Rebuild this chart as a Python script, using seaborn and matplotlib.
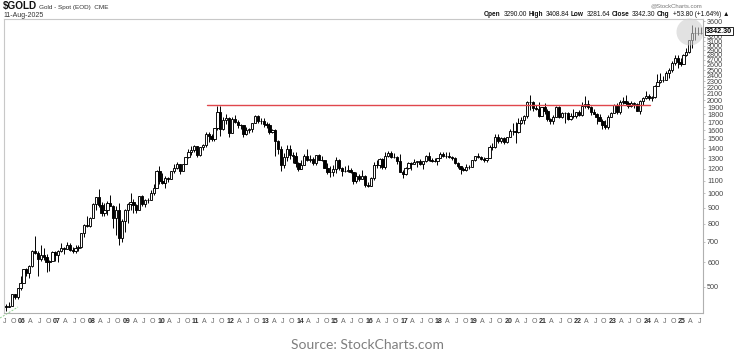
import numpy as np
import pandas as pd
import matplotlib
matplotlib.use("Agg")
import matplotlib.pyplot as plt
import seaborn as sns
from matplotlib.patches import Ellipse
from matplotlib.transforms import IdentityTransform, blended_transform_factory
from matplotlib.lines import Line2D

# ---------------- data (monthly candles, $GOLD spot) ----------------
start_month = "2005-07"
end_month = "2025-08"
first_open = 435.0

closes = [
    429, 433, 473, 465, 495, 513,                                              # 2005 (Jul-Dec)
    569, 556, 582, 654, 643, 614, 632, 624, 599, 604, 646, 632,                # 2006
    650, 665, 662, 680, 659, 650, 666, 673, 743, 790, 783, 834,                # 2007
    923, 972, 916, 863, 886, 930, 913, 833, 884, 718, 814, 884,                # 2008
    928, 942, 916, 884, 980, 927, 955, 954, 1001, 1040, 1179, 1097,            # 2009
    1081, 1118, 1113, 1180, 1213, 1244, 1181, 1248, 1307, 1359, 1386, 1421,    # 2010
    1332, 1410, 1439, 1556, 1536, 1500, 1628, 1826, 1620, 1722, 1746, 1565,    # 2011
    1740, 1697, 1669, 1664, 1559, 1604, 1614, 1693, 1773, 1719, 1713, 1675,    # 2012
    1664, 1578, 1597, 1476, 1393, 1234, 1313, 1396, 1327, 1323, 1250, 1202,    # 2013
    1240, 1326, 1284, 1296, 1250, 1327, 1282, 1287, 1210, 1171, 1175, 1199,    # 2014
    1279, 1212, 1183, 1183, 1190, 1172, 1095, 1135, 1115, 1142, 1065, 1061,    # 2015
    1118, 1238, 1233, 1291, 1215, 1321, 1351, 1309, 1316, 1277, 1173, 1152,    # 2016
    1211, 1250, 1249, 1268, 1269, 1242, 1270, 1322, 1280, 1271, 1275, 1303,    # 2017
    1345, 1318, 1325, 1316, 1299, 1253, 1224, 1201, 1192, 1215, 1222, 1282,    # 2018
    1321, 1313, 1292, 1283, 1305, 1409, 1414, 1520, 1472, 1513, 1464, 1517,    # 2019
    1587, 1585, 1577, 1687, 1730, 1781, 1975, 1968, 1886, 1879, 1776, 1898,    # 2020
    1848, 1734, 1708, 1769, 1906, 1770, 1814, 1814, 1743, 1783, 1774, 1829,    # 2021
    1797, 1909, 1937, 1897, 1838, 1807, 1766, 1711, 1661, 1633, 1768, 1824,    # 2022
    1928, 1827, 1969, 1990, 1963, 1919, 1965, 1940, 1849, 1983, 2036, 2063,    # 2023
    2039, 2044, 2230, 2286, 2327, 2326, 2448, 2503, 2634, 2744, 2657, 2625,    # 2024
    2798, 2858, 3124, 3289, 3289, 3303, 3288.5, 3342.30,                       # 2025 (Jan-Aug)
]
highs = [
    439, 447, 474, 475, 497, 540,
    571, 574, 586, 655, 730, 653, 680, 665, 640, 610, 650, 650,
    656, 690, 671, 695, 692, 672, 684, 684, 745, 795, 848, 838,
    931, 976, 1032, 936, 935, 943, 988, 917, 909, 930, 829, 889,
    933, 1006, 960, 924, 981, 989, 960, 966, 1024, 1070, 1195, 1227,
    1162, 1139, 1134, 1181, 1249, 1266, 1245, 1249, 1310, 1388, 1424, 1432,
    1423, 1411, 1448, 1575, 1577, 1560, 1632, 1912, 1921, 1760, 1804, 1764,
    1764, 1791, 1720, 1678, 1668, 1640, 1625, 1693, 1789, 1796, 1755, 1749,
    1697, 1684, 1616, 1614, 1488, 1424, 1346, 1434, 1434, 1362, 1361, 1267,
    1280, 1345, 1392, 1331, 1315, 1332, 1345, 1322, 1287, 1255, 1223, 1239,
    1307, 1290, 1220, 1224, 1232, 1205, 1175, 1170, 1157, 1191, 1146, 1088,
    1127, 1263, 1282, 1303, 1304, 1362, 1375, 1367, 1352, 1317, 1338, 1189,
    1220, 1264, 1262, 1295, 1272, 1296, 1275, 1331, 1357, 1306, 1299, 1306,
    1366, 1362, 1365, 1365, 1326, 1309, 1266, 1228, 1214, 1243, 1237, 1284,
    1326, 1346, 1324, 1310, 1306, 1439, 1453, 1555, 1557, 1517, 1517, 1525,
    1611, 1689, 1704, 1747, 1765, 1786, 1984, 2075, 1992, 1933, 1966, 1906,
    1959, 1875, 1756, 1798, 1913, 1916, 1833, 1832, 1836, 1814, 1877, 1831,
    1853, 1976, 2070, 1998, 1910, 1880, 1814, 1807, 1735, 1730, 1786, 1833,
    1949, 1959, 2009, 2049, 2079, 1984, 1987, 1966, 1953, 2009, 2052, 2135,
    2088, 2065, 2236, 2431, 2450, 2387, 2483, 2531, 2685, 2790, 2801, 2726,
    2817, 2956, 3128, 3500, 3435, 3452, 3439, 3408.84,
]
lows = [
    418, 430, 433, 457, 456, 490,
    513, 542, 535, 581, 640, 543, 606, 612, 560, 561, 616, 606,
    603, 648, 636, 662, 652, 641, 645, 652, 669, 723, 777, 781,
    832, 884, 905, 848, 849, 855, 912, 775, 736, 681, 700, 754,
    802, 887, 866, 865, 884, 913, 904, 931, 950, 990, 1042, 1075,
    1075, 1045, 1087, 1113, 1165, 1200, 1156, 1179, 1242, 1305, 1330, 1360,
    1309, 1326, 1381, 1417, 1462, 1478, 1480, 1600, 1532, 1598, 1676, 1523,
    1564, 1688, 1627, 1614, 1527, 1549, 1565, 1583, 1689, 1692, 1672, 1635,
    1627, 1555, 1562, 1321, 1339, 1180, 1208, 1271, 1292, 1251, 1222, 1182,
    1200, 1238, 1277, 1268, 1240, 1240, 1280, 1273, 1205, 1160, 1131, 1142,
    1167, 1191, 1142, 1175, 1170, 1162, 1077, 1080, 1098, 1112, 1052, 1046,
    1061, 1107, 1208, 1206, 1200, 1200, 1310, 1301, 1301, 1241, 1171, 1123,
    1146, 1200, 1195, 1245, 1214, 1236, 1204, 1267, 1271, 1260, 1264, 1236,
    1302, 1307, 1303, 1302, 1282, 1246, 1211, 1160, 1180, 1182, 1196, 1221,
    1276, 1302, 1281, 1266, 1266, 1301, 1381, 1400, 1459, 1459, 1445, 1454,
    1517, 1548, 1451, 1568, 1670, 1671, 1757, 1863, 1849, 1860, 1764, 1775,
    1802, 1717, 1677, 1678, 1765, 1751, 1751, 1688, 1722, 1721, 1758, 1753,
    1780, 1781, 1890, 1872, 1787, 1805, 1681, 1709, 1615, 1617, 1616, 1765,
    1823, 1805, 1804, 1950, 1932, 1893, 1903, 1885, 1846, 1810, 1931, 2016,
    2001, 1984, 2039, 2229, 2277, 2286, 2319, 2364, 2471, 2603, 2537, 2583,
    2614, 2772, 2833, 2957, 3121, 3247, 3268, 3281.64,
]
y_ticks = [500, 600, 700, 800, 900, 1000, 1100, 1200, 1300, 1400, 1500, 1600,
           1700, 1800, 1900, 2000, 2100, 2200, 2300, 2400, 2500, 2600, 2700,
           2800, 2900, 3000, 3100, 3200, 3600]
resistance_months = ["2011-05", "2024-02"]
resistance_level = [1930, 1930]
last_price = 3342.30

header_right = [("Open", True), ("3290.00", False), ("High", True), ("3408.84", False),
                ("Low", True), ("3281.64", False), ("Close", True), ("3342.30", False),
                ("Chg", True), ("+53.80 (+1.64%) \u25b2", False)]

# ---------------- build frame ----------------
months = pd.period_range(start_month, end_month, freq="M")
opens = [first_open] + closes[:-1]
df = pd.DataFrame({"month": months, "open": opens, "high": highs,
                   "low": lows, "close": closes})


def to_year(p):
    return p.year + (p.month - 1) / 12.0


df["t"] = [to_year(p) + 1 / 24.0 for p in df["month"]]
df["up"] = df["close"] >= df["open"]
df["body_lo"] = df[["open", "close"]].min(axis=1)
df["body_h"] = (df["close"] - df["open"]).abs()

# ---------------- figure ----------------
sns.set_theme(style="white")
plt.rcParams["font.family"] = ["Liberation Sans", "DejaVu Sans"]
W, H = 734, 356
fig = plt.figure(figsize=(W / 100, H / 100), dpi=100)
fig.patch.set_facecolor("white")


def fx(px):
    return px / W


def fy(py):
    return 1 - py / H


ax_l, ax_r, ax_t, ax_b = 4, 703, 19, 313
ax = fig.add_axes([fx(ax_l), fy(ax_b), (ax_r - ax_l) / W, (ax_b - ax_t) / H])
ax.set_facecolor("white")
ax.set_yscale("log")

# wicks
ax.vlines(df["t"], df["low"], df["high"], color="black", lw=0.7, zorder=2)
# bodies
up = df[df["up"]]
dn = df[~df["up"]]
ax.bar(up["t"], up["body_h"], bottom=up["body_lo"], width=0.064,
       color="white", edgecolor="black", linewidth=0.65, zorder=3)
ax.bar(dn["t"], dn["body_h"], bottom=dn["body_lo"], width=0.064,
       color="black", edgecolor="black", linewidth=0.65, zorder=3)

# resistance line
res_x = [to_year(pd.Period(m, freq="M")) for m in resistance_months]
sns.lineplot(x=res_x, y=resistance_level, ax=ax, color="#e0474c", lw=1.0,
             zorder=4, legend=False)

# axis scales
x_left = 2006 - 18 / 34.75
x_right = 2025 + 21 / 34.75
ax.set_xlim(x_left, x_right)
y_top = 10 ** ((193.5 - ax_t) / 310) * 1000
y_bot = 10 ** ((193.5 - ax_b) / 310) * 1000
ax.set_ylim(y_bot, y_top)

# y axis on right
ax.yaxis.tick_right()
ax.yaxis.set_minor_locator(matplotlib.ticker.NullLocator())
ax.set_yticks(y_ticks)
ax.set_yticklabels([str(v) for v in y_ticks])
ax.tick_params(axis="y", which="major", length=1.5, width=0.5, color="#aaaaaa",
               pad=1.5, labelsize=5.2, labelcolor="#444444")

# x ticks quarterly
xt, xl = [], []
for y in range(2005, 2026):
    for m, lab in [(1, None), (4, "A"), (7, "J"), (10, "O")]:
        pos = y + (m - 1) / 12.0
        if pos < x_left or pos > x_right:
            continue
        xt.append(pos)
        xl.append(f"{y % 100:02d}" if lab is None else lab)
ax.set_xticks(xt)
ax.set_xticklabels(xl)
ax.tick_params(axis="x", length=1.5, width=0.5, color="#aaaaaa", pad=2,
               labelsize=5.0, labelcolor="#666666")
for tl in ax.get_xticklabels():
    if tl.get_text().isdigit():
        tl.set_fontweight("bold")
        tl.set_color("#333333")

for s in ["top", "left"]:
    ax.spines[s].set_color("#c8c8c8")
    ax.spines[s].set_linewidth(0.8)
for s in ["right", "bottom"]:
    ax.spines[s].set_color("#b0b0b0")
    ax.spines[s].set_linewidth(0.8)
    ax.spines[s].set_linestyle((0, (1, 1)))
ax.grid(False)

# last price box
ax.text(1.004, last_price, f"{last_price:.2f}",
        transform=blended_transform_factory(ax.transAxes, ax.transData),
        fontsize=5.2, fontweight="bold", color="black", va="center", ha="left",
        zorder=10, clip_on=False,
        bbox=dict(boxstyle="square,pad=0.12", fc="white", ec="black", lw=0.6))

# highlight circle at last price
circ = Ellipse((690, H - 32), 27, 27, transform=IdentityTransform(),
               facecolor="#cfcfcf", edgecolor="none", alpha=0.6, zorder=6)
fig.add_artist(circ)

# faint green trendline fragment bottom-left
fig.add_artist(Line2D([fx(0), fx(18)], [fy(318), fy(307)], transform=fig.transFigure,
                      color="#8fd08f", lw=0.7, ls=(0, (2, 1.5))))

# header left
gold_t = fig.text(fx(3), fy(9.5), "\\$GOLD", fontsize=7.2, fontweight="bold",
                  color="#111111", va="baseline", ha="left")
fig.canvas.draw()
r = fig.canvas.get_renderer()
bb = gold_t.get_window_extent(r)
fig.text((bb.x1 + 2) / W, fy(9.5), "Gold - Spot (EOD)  CME", fontsize=4.6,
         color="#333333", va="baseline", ha="left")
fig.text(fx(3), fy(17), "11-Aug-2025", fontsize=5.0, color="#333333",
         va="baseline", ha="left")

# header right (built right to left)
x_cur = 729
for txt, bold in reversed(header_right):
    t = fig.text(x_cur / W, fy(16.5), txt, fontsize=4.7,
                 fontweight="bold" if bold else "normal", color="#111111",
                 va="baseline", ha="right")
    w = t.get_window_extent(r).width
    x_cur -= w + (1.6 if bold else 2.8)

fig.text(fx(702), fy(7), "@StockCharts.com", fontsize=4.3, color="#777777",
         va="baseline", ha="right")

# source line
fig.text(0.5, fy(345), "Source: StockCharts.com", fontsize=10, color="#7f7f7f",
         family=["Lato", "DejaVu Sans"], va="center", ha="center")

fig.savefig("out.png", dpi=100, facecolor="white")
